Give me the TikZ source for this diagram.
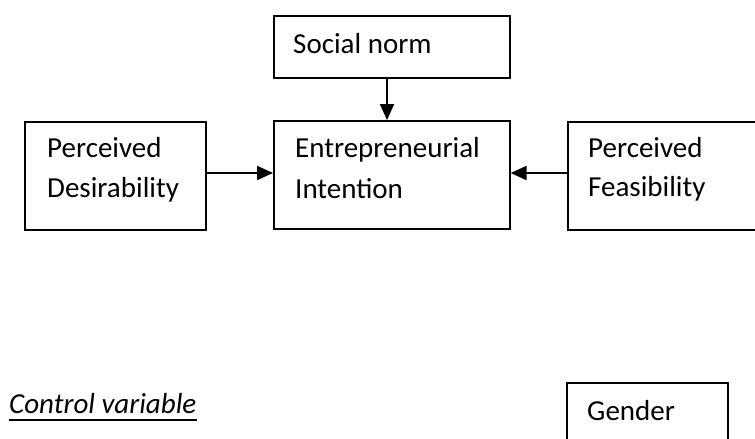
\documentclass[tikz,border=0pt]{standalone}
\usepackage{fontspec}
\setmainfont{Carlito}
\usetikzlibrary{arrows.meta,calc}
\begin{document}
\begin{tikzpicture}[x=1pt,y=-1pt,
  box/.style={draw,line width=1.6pt,rectangle,inner sep=0pt,anchor=north west},
  lbl/.style={anchor=base west,inner sep=0pt,font=\fontsize{29}{35}\selectfont},
  conn/.style={line width=2pt,-{Triangle[length=16pt,width=14pt]}}]
\useasboundingbox (0,0) rectangle (755,439);
% boxes
\node[box,minimum width=236pt,minimum height=62pt] (social) at (273,15) {};
\node[box,minimum width=181pt,minimum height=108pt] (desir) at (24,121) {};
\node[box,minimum width=236pt,minimum height=108pt] (entre) at (273,120) {};
\node[box,minimum width=240pt,minimum height=108pt] (feas) at (567,121) {};
\node[box,minimum width=161pt,minimum height=90pt] (gender) at (566,382) {};
% texts
\node[lbl] (tsocial) at (293,53) {Social norm};
\node[lbl] (tdesir1) at (47,157) {Perceived};
\node[lbl] (tdesir2) at (47,197) {Desirability};
\node[lbl] (tentre1) at (295,157) {Entrepreneurial};
\node[lbl] (tentre2) at (295,198) {Intention};
\node[lbl] (tfeas1) at (588,157) {Perceived};
\node[lbl] (tfeas2) at (588,196) {Feasibility};
\node[lbl] (tgender) at (587,420) {Gender};
\node[lbl,font=\fontsize{29}{35}\selectfont\itshape] (cv) at (9,413) {Control variable};
\draw[line width=2pt] ($(cv.base west)+(0,7)$) -- ($(cv.base east)+(0,7)$);
% connectors
\draw[conn] (social.south -| 387,0) -- (entre.north -| 387,0);
\draw[conn] (desir.east |- 0,173) -- (entre.west |- 0,173);
\draw[conn] (feas.west |- 0,173) -- (entre.east |- 0,173);
\end{tikzpicture}
\end{document}
